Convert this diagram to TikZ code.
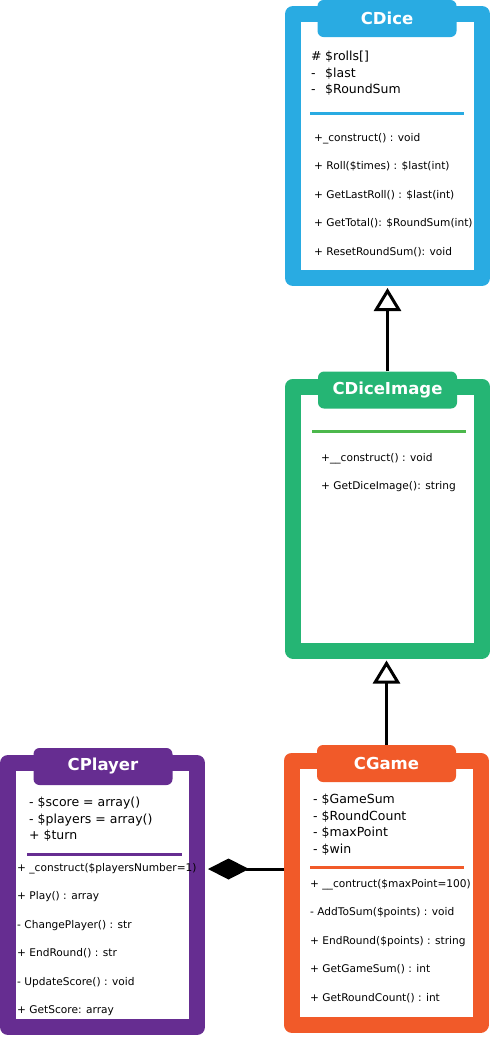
\documentclass[tikz,border=0pt]{standalone}
\usepackage{fontspec}
\setmainfont{DejaVu Sans}
\usetikzlibrary{positioning,arrows.meta}

\definecolor{diceblue}{HTML}{29ABE2}
\definecolor{imggreen}{HTML}{25B574}
\definecolor{imgsep}{HTML}{4CB84C}
\definecolor{playerpurple}{HTML}{662D91}
\definecolor{gameorange}{HTML}{F15A29}

\begin{document}
\begin{tikzpicture}[x=1pt, y=-1pt,
		frame/.style={draw=#1, line width=16pt, line join=round, fill=white,
				minimum width=189pt, minimum height=264pt, inner sep=0pt},
		tab/.style={fill=#1, rounded corners=6pt, minimum width=139pt, minimum height=37pt,
				inner sep=0pt, text=white, font=\fontsize{16.5}{18}\selectfont\bfseries},
		attrs/.style={anchor=north west, inner sep=0pt, align=left, font=\fontsize{12.5}{16.5}\selectfont},
		meths/.style={anchor=north west, inner sep=0pt, align=left, font=\fontsize{10.6}{28.5}\selectfont},
		sep/.style={draw=#1, line width=3pt},
		inherit/.style={line width=3pt, -{Triangle[open, length=23pt, width=27pt]}, shorten >=2pt},
		compose/.style={line width=3pt, -{Diamond[length=41pt, width=21pt]}, shorten >=3pt}
]
\useasboundingbox (0,0) rectangle (490,1037);

% CDice
\node [frame=diceblue] (dice) at (387.5,146) {};
\node [tab=diceblue] (diceTab) at (387,18.5) {CDice};
\node [attrs] (diceAttrs) at (311,51) {\makebox[14pt][l]{\#}\$rolls[]\\ \makebox[14pt][l]{-}\$last\\ \makebox[14pt][l]{-}\$RoundSum};
\draw [sep=diceblue] (310,113) -- (464,113);
\node [meths] (diceMeths) at (314,133) {+\_construct() : void\\ + Roll(\$times) : \$last(int)\\
	+ GetLastRoll() : \$last(int)\\ + GetTotal(): \$RoundSum(int)\\ + ResetRoundSum(): void};

% CDiceImage
\node [frame=imggreen] (img) at (387.5,518.5) {};
\node [tab=imggreen] (imgTab) at (387.5,390) {CDiceImage};
\draw [sep=imgsep] (312,431) -- (466,431);
\node [meths] (imgMeths) at (321,453) {+\_\_construct() : void\\ + GetDiceImage(): string};

% CPlayer
\node [frame=playerpurple] (player) at (102.5,895) {};
\node [tab=playerpurple] (playerTab) at (103,766.5) {CPlayer};
\node [attrs] (playerAttrs) at (29,797) {- \$score = array()\\ - \$players = array()\\ + \$turn};
\draw [sep=playerpurple] (27,854) -- (182,854);
\node [meths] (playerMeths) at (17,863) {+ \_construct(\$playersNumber=1)\\ + Play() : array\\
	- ChangePlayer() : str\\ + EndRound() : str\\ - UpdateScore() : void\\ + GetScore: array};

% CGame
\node [frame=gameorange] (game) at (386,892.5) {};
\node [tab=gameorange] (gameTab) at (386.5,763.5) {CGame};
\node [attrs] (gameAttrs) at (313,794) {- \$GameSum\\ - \$RoundCount\\ - \$maxPoint\\ - \$win};
\draw [sep=gameorange] (310,867) -- (464,867);
\node [meths] (gameMeths) at (310,879) {+ \_\_contruct(\$maxPoint=100)\\ - AddToSum(\$points) : void\\
	+ EndRound(\$points) : string\\ + GetGameSum() : int\\ + GetRoundCount() : int};

% links
\draw [inherit] (imgTab.north) -- (imgTab.north |- dice.south);
\draw [inherit] (gameTab.north) -- (gameTab.north |- img.south);
\draw [compose] (game.west |- 0,869) -- (player.east |- 0,869);

\end{tikzpicture}
\end{document}
